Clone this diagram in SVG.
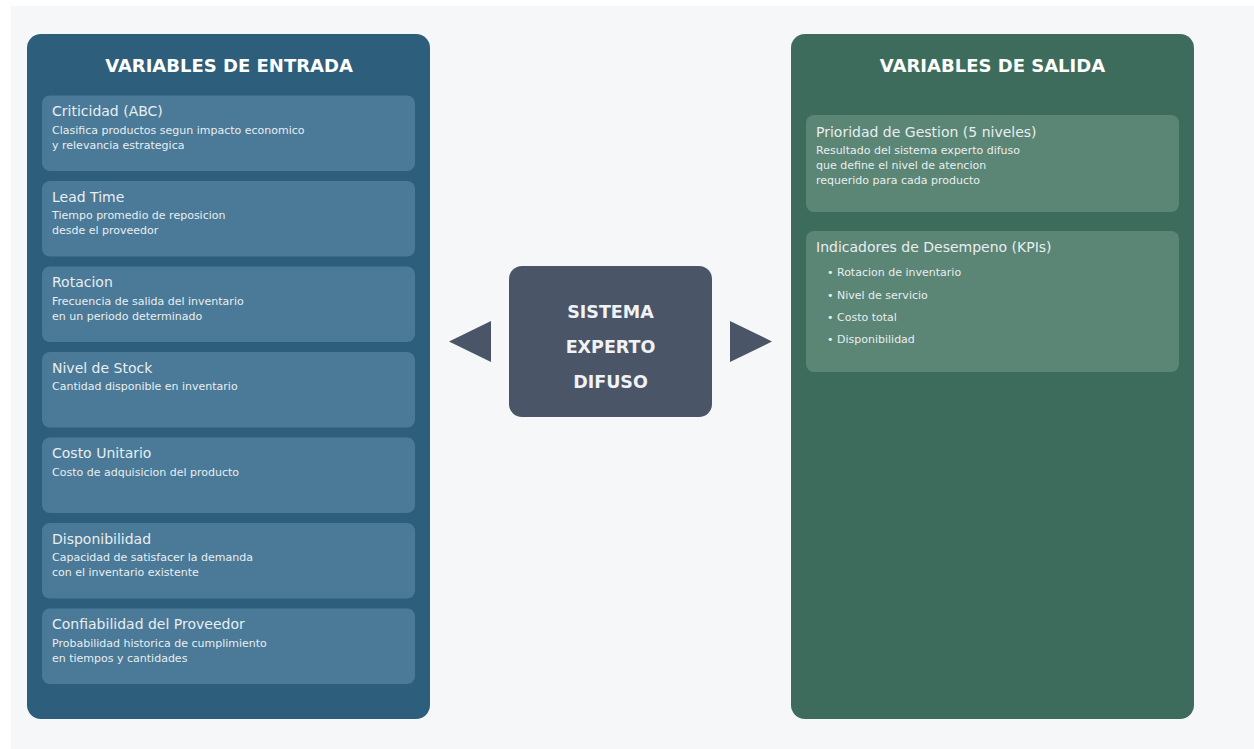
<svg xmlns="http://www.w3.org/2000/svg" width="1254" height="749" viewBox="0 0 1254 749">
<defs>
<style>
.title{font-family:"DejaVu Sans",sans-serif;font-weight:bold;font-size:18px;fill:#ffffff;text-anchor:middle}
.ct{font-family:"DejaVu Sans",sans-serif;font-size:14px;fill:#e8eef2}
.cd{font-family:"DejaVu Sans",sans-serif;font-size:11px;fill:#e8eef2}
.in{fill:#4a7a97}
.out{fill:#5b8574}
.center{font-family:"DejaVu Sans",sans-serif;font-weight:bold;font-size:17.5px;fill:#f0f2f5;text-anchor:middle}
</style>
</defs>
<rect x="0" y="0" width="1254" height="749" fill="#ffffff"/>
<rect x="11" y="6" width="1243" height="743" fill="#f5f7f9"/>

<g id="entrada">
<rect x="27" y="34" width="403" height="685" rx="14" fill="#2d5e7c"/>
<text class="title" x="229" y="72">VARIABLES DE ENTRADA</text>
</g>
<g id="criticidad">
<rect class="in" x="42" y="95.5" width="373" height="75.5" rx="8"/>
<text class="ct" x="52" y="116">Criticidad (ABC)</text>
<text class="cd" x="52" y="133.5">Clasifica productos segun impacto economico</text>
<text class="cd" x="52" y="148.5">y relevancia estrategica</text>
</g>
<g id="leadtime">
<rect class="in" x="42" y="181" width="373" height="75.5" rx="8"/>
<text class="ct" x="52" y="201.5">Lead Time</text>
<text class="cd" x="52" y="219">Tiempo promedio de reposicion</text>
<text class="cd" x="52" y="234">desde el proveedor</text>
</g>
<g id="rotacion">
<rect class="in" x="42" y="266.5" width="373" height="75.5" rx="8"/>
<text class="ct" x="52" y="287">Rotacion</text>
<text class="cd" x="52" y="304.5">Frecuencia de salida del inventario</text>
<text class="cd" x="52" y="319.5">en un periodo determinado</text>
</g>
<g id="stock">
<rect class="in" x="42" y="352" width="373" height="75.5" rx="8"/>
<text class="ct" x="52" y="372.5">Nivel de Stock</text>
<text class="cd" x="52" y="390">Cantidad disponible en inventario</text>
</g>
<g id="costo">
<rect class="in" x="42" y="437.5" width="373" height="75.5" rx="8"/>
<text class="ct" x="52" y="458">Costo Unitario</text>
<text class="cd" x="52" y="475.5">Costo de adquisicion del producto</text>
</g>
<g id="disponibilidad">
<rect class="in" x="42" y="523" width="373" height="75.5" rx="8"/>
<text class="ct" x="52" y="543.5">Disponibilidad</text>
<text class="cd" x="52" y="561">Capacidad de satisfacer la demanda</text>
<text class="cd" x="52" y="576">con el inventario existente</text>
</g>
<g id="confiabilidad">
<rect class="in" x="42" y="608.5" width="373" height="75.5" rx="8"/>
<text class="ct" x="52" y="629">Confiabilidad del Proveedor</text>
<text class="cd" x="52" y="646.5">Probabilidad historica de cumplimiento</text>
<text class="cd" x="52" y="661.5">en tiempos y cantidades</text>
</g>

<g id="connectors">
<polygon points="449,341.5 491,321 491,362" fill="#4a5568"/>
<polygon points="772,341.5 730,321 730,362" fill="#4a5568"/>
</g>

<g id="sistema">
<rect x="509" y="266" width="203" height="151" rx="13" fill="#4a5568"/>
<text class="center" x="610.5" y="318">SISTEMA</text>
<text class="center" x="610.5" y="353">EXPERTO</text>
<text class="center" x="610.5" y="388">DIFUSO</text>
</g>

<g id="salida">
<rect x="791" y="34" width="403" height="685" rx="14" fill="#3e6c5c"/>
<text class="title" x="992.5" y="72">VARIABLES DE SALIDA</text>
</g>
<g id="prioridad">
<rect class="out" x="806" y="115" width="373" height="97" rx="8"/>
<text class="ct" x="816" y="137">Prioridad de Gestion (5 niveles)</text>
<text class="cd" x="816" y="154">Resultado del sistema experto difuso</text>
<text class="cd" x="816" y="169">que define el nivel de atencion</text>
<text class="cd" x="816" y="184">requerido para cada producto</text>
</g>
<g id="kpis">
<rect class="out" x="806" y="231" width="373" height="141" rx="8"/>
<text class="ct" x="816" y="252">Indicadores de Desempeno (KPIs)</text>
<text class="cd" x="827" y="276">• Rotacion de inventario</text>
<text class="cd" x="827" y="298.5">• Nivel de servicio</text>
<text class="cd" x="827" y="321">• Costo total</text>
<text class="cd" x="827" y="343">• Disponibilidad</text>
</g>
</svg>
